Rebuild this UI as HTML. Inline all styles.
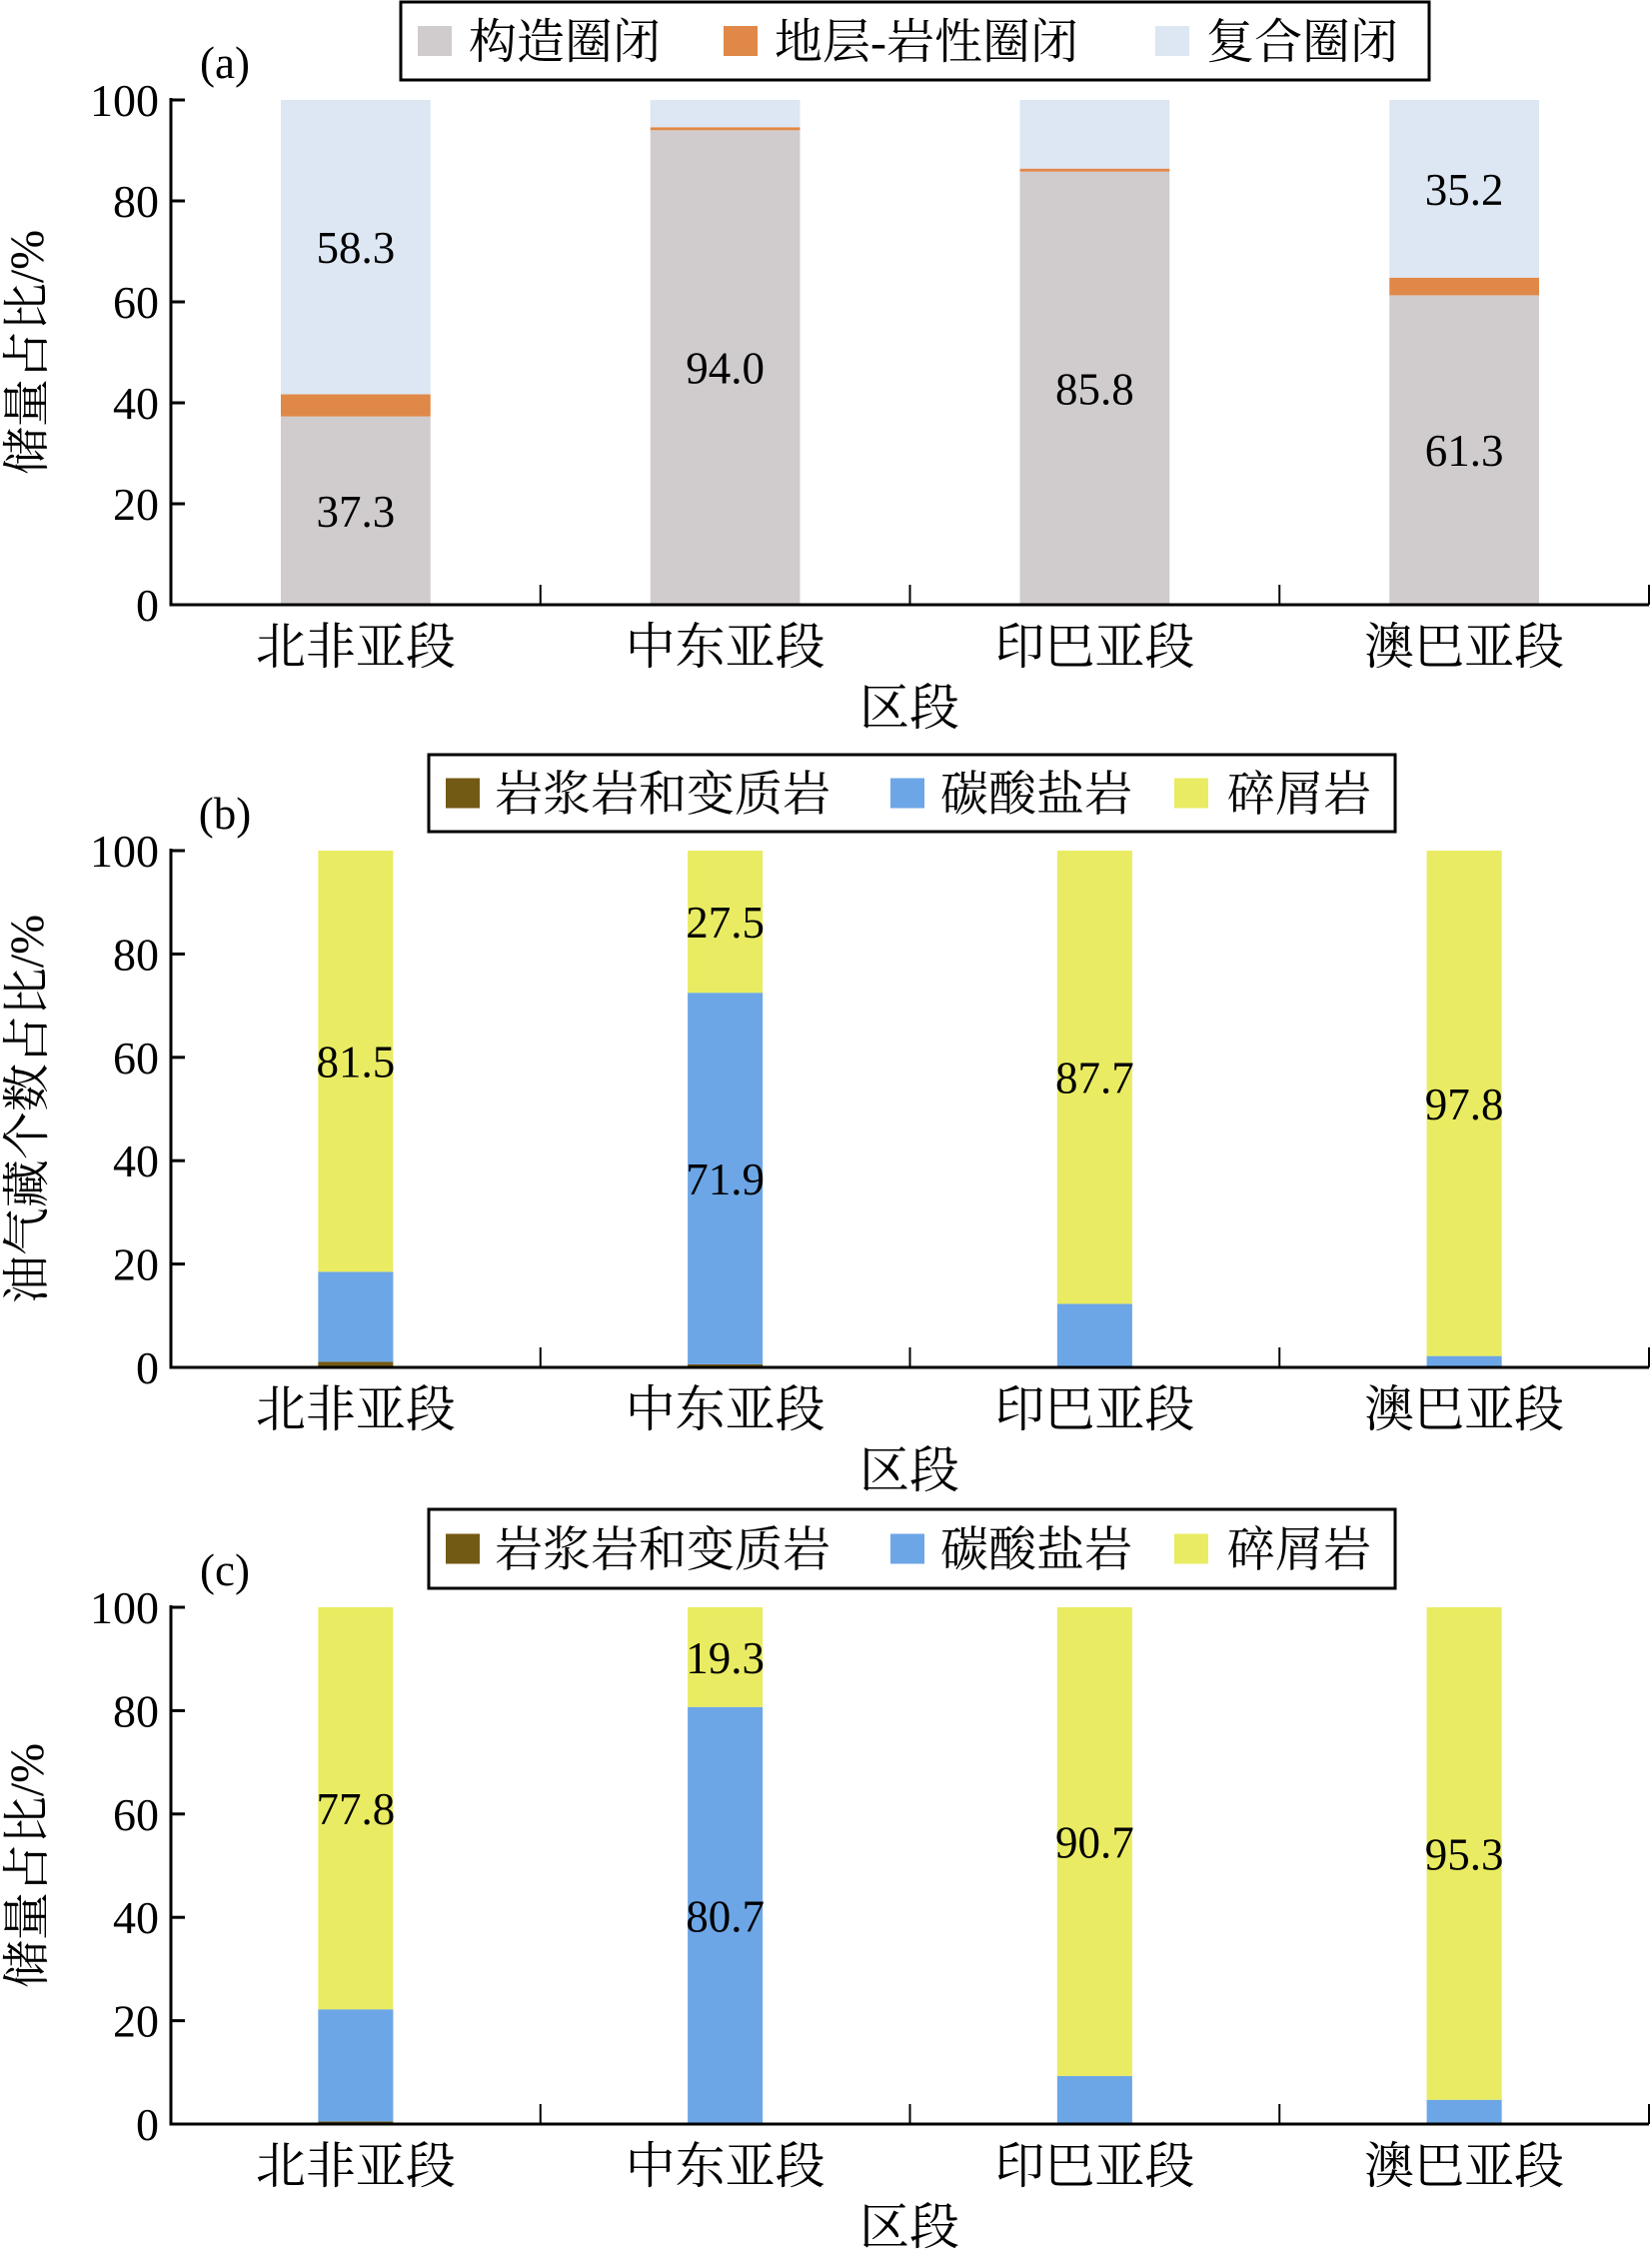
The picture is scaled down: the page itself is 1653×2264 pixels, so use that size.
<!DOCTYPE html>
<html><head><meta charset="utf-8"><style>
body{margin:0;background:#fff;}
svg text{font-family:"Liberation Serif","Noto Serif CJK SC","Noto Sans CJK SC",serif;fill:#000;}
</style></head><body>
<svg id="root" width="1653" height="2259" xmlns="http://www.w3.org/2000/svg"></svg>
<script>
const categories = ["北非亚段","中东亚段","印巴亚段","澳巴亚段"];
const yTicks = [0,20,40,60,80,100];
// panel a
const aSeriesNames = ["构造圈闭","地层-岩性圈闭","复合圈闭"];
const aStructural = [37.3,94.0,85.8,61.3];
const aStratigraphic = [4.4,0.6,0.6,3.5];
const aComposite = [58.3,5.4,13.6,35.2];
const aLabels = [["37.3","94.0","85.8","61.3"],[null,null,null,null],["58.3",null,null,"35.2"]];
// panel b
const lithNames = ["岩浆岩和变质岩","碳酸盐岩","碎屑岩"];
const bIgneous = [1.1,0.6,0,0];
const bCarbonate = [17.4,71.9,12.3,2.2];
const bClastic = [81.5,27.5,87.7,97.8];
const bLabels = [[null,null,null,null],[null,"71.9",null,null],["81.5","27.5","87.7","97.8"]];
// panel c
const cIgneous = [0.5,0,0,0];
const cCarbonate = [21.7,80.7,9.3,4.7];
const cClastic = [77.8,19.3,90.7,95.3];
const cLabels = [[null,null,null,null],[null,"80.7",null,null],["77.8","19.3","90.7","95.3"]];

const NS="http://www.w3.org/2000/svg";
const root=document.getElementById('root');
function mk(tag,attrs,parent,text){const e=document.createElementNS(NS,tag);for(const k in attrs)e.setAttribute(k,attrs[k]);if(text!=null)e.textContent=text;(parent||root).appendChild(e);return e;}

function panel(cfg){
  const g=mk('g',{});
  
  
  const x0=171,x1=1650,y100=cfg.top,y0=cfg.bottom;
  const band=(x1-x0)/categories.length;
  const yS=v=>y0-(v/100)*(y0-y100);
  const xC=i=>x0+band*(i+0.5);
  const bw=band*cfg.barFrac;
  for(let i=0;i<categories.length;i++){
    let acc=0;
    cfg.series.forEach((s,si)=>{
      const v=s[i];
      if(v>0){
        const r=mk('rect',{x:xC(i)-bw/2,y:yS(acc+v),width:bw,height:yS(acc)-yS(acc+v),fill:cfg.colors[si]},g);
        
        
      }
      const lab=cfg.labels[si][i];
      if(lab){
        const t=mk('text',{x:xC(i),y:yS(acc+v/2)+16,'text-anchor':'middle','font-size':45},g,lab);
        
        
      }
      acc+=v;
    });
  }
  const ax=mk('path',{d:`M${x0},${y100-2}V${y0}H${x1}`,stroke:'#000','stroke-width':3,fill:'none'},g);
  
  
  yTicks.forEach(v=>{
    mk('line',{x1:x0,x2:x0+14,y1:yS(v),y2:yS(v),stroke:'#000','stroke-width':3},g);
    const t=mk('text',{x:x0-12,y:yS(v)+16,'text-anchor':'end','font-size':46},g,String(v));
    
    
  });
  for(let i=1;i<=categories.length;i++){
    mk('line',{x1:x0+band*i,x2:x0+band*i,y1:y0,y2:y0-20,stroke:'#000','stroke-width':2},g);
  }
  categories.forEach((c,i)=>{
    const t=mk('text',{x:xC(i),y:y0+59,'text-anchor':'middle','font-size':50},g,c);
    
    
  });
  const xt=mk('text',{x:910,y:y0+120,'text-anchor':'middle','font-size':50},g,'区段');
  
  
  const yc=(y0+y100)/2;
  const yt=mk('text',{x:0,y:0,'text-anchor':'middle','font-size':48,transform:`translate(43,${yc}) rotate(-90)`},g,cfg.ylabel);
  
  
  const pl=mk('text',{x:225,y:y100-22,'text-anchor':'middle','font-size':45},g,cfg.letter);
  
  
  const L=cfg.legend;
  const lb=mk('rect',{x:L.x,y:L.y,width:L.w,height:L.h,fill:'#fff',stroke:'#000','stroke-width':3},g);
  
  
  cfg.names.forEach((n,si)=>{
    const sw=mk('rect',{x:L.sx[si],y:L.y+L.h/2-15,width:34,height:30,fill:cfg.colors[si]},g);
    
    
    const t=mk('text',{x:L.tx[si],y:L.y+L.h/2+17,'font-size':48},g,n);
    
    
  });
}

panel({name:'chart-a',key:'a',top:100,bottom:605,barFrac:0.405,
  series:[aStructural,aStratigraphic,aComposite],labels:aLabels,
  colors:['#d0ccce','#e08848','#dde6f3'],names:aSeriesNames,
  ylabel:'储量占比/%',letter:'(a)',
  legend:{x:401,y:2,w:1029,h:78,sx:[418,724,1156],tx:[469,775,1207]}});
panel({name:'chart-b',key:'b',top:851,bottom:1368,barFrac:0.203,
  series:[bIgneous,bCarbonate,bClastic],labels:bLabels,
  colors:['#735a14','#6ca6e6','#e9ec62'],names:lithNames,
  ylabel:'油气藏个数占比/%',letter:'(b)',
  legend:{x:429,y:755,w:967,h:77,sx:[446,891,1175],tx:[495,941,1228]}});
panel({name:'chart-c',key:'c',top:1608,bottom:2125,barFrac:0.203,
  series:[cIgneous,cCarbonate,cClastic],labels:cLabels,
  colors:['#735a14','#6ca6e6','#e9ec62'],names:lithNames,
  ylabel:'储量占比/%',letter:'(c)',
  legend:{x:429,y:1510,w:967,h:79,sx:[446,891,1175],tx:[495,941,1228]}});
</script>
</body></html>
